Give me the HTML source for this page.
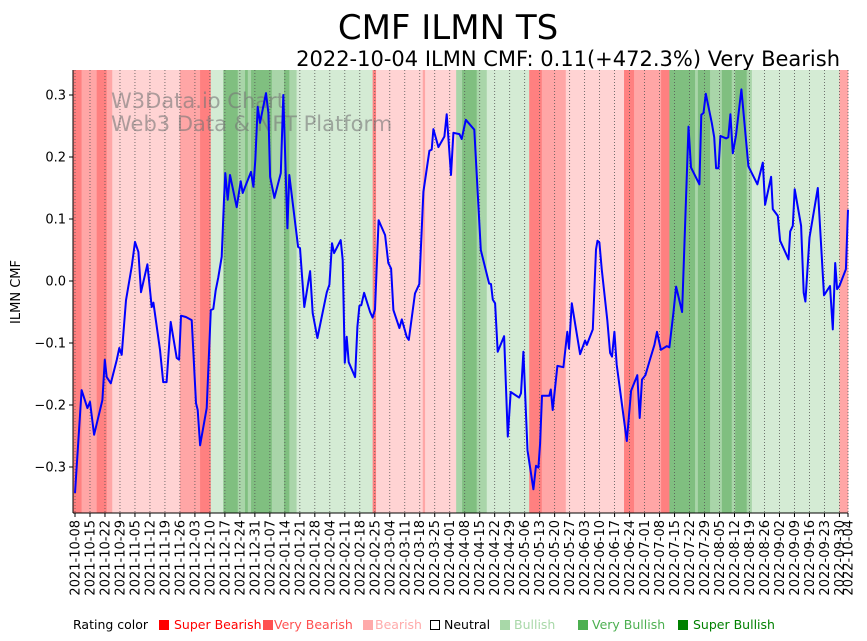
<!DOCTYPE html>
<html><head><meta charset="utf-8">
<style>
html,body{margin:0;padding:0;background:#fff;}
svg{display:block;font-family:"DejaVu Sans","Liberation Sans",sans-serif;}
</style></head>
<body>
<svg id="chart" width="867" height="641" viewBox="0 0 867 641" xmlns="http://www.w3.org/2000/svg">
<text x="448" y="39" font-size="34" text-anchor="middle" fill="#000">CMF ILMN TS</text>
<text x="840" y="66" font-size="21" text-anchor="end" fill="#000">2022-10-04 ILMN CMF: 0.11(+472.3%) Very Bearish</text>
<g id="bands"></g>
<g id="grid"></g>
<text x="111" y="108" font-size="21" fill="#777" fill-opacity="0.6">W3Data.io Chart</text>
<text x="111" y="131" font-size="21" fill="#777" fill-opacity="0.6">Web3 Data &amp; NFT Platform</text>
<g id="series"></g>
<g id="axes"></g>
<text transform="translate(20,292) rotate(-90)" font-size="13" text-anchor="middle">ILMN CMF</text>
<g font-size="12.5">
<text x="73" y="629">Rating color</text>
<rect x="159" y="620" width="10" height="10" fill="#ff0000"/>
<text x="174" y="629" fill="#ff0000">Super Bearish</text>
<rect x="263" y="620" width="10" height="10" fill="#ff5050"/>
<text x="274" y="629" fill="#ff5050">Very Bearish</text>
<rect x="363" y="620" width="10" height="10" fill="#ffaaaa"/>
<text x="375" y="629" fill="#ffaaaa">Bearish</text>
<rect x="430.5" y="620.5" width="9" height="9" fill="#fff" stroke="#000"/>
<text x="444" y="629" fill="#000">Neutral</text>
<rect x="500" y="620" width="10" height="10" fill="#a8d8a8"/>
<text x="514" y="629" fill="#a8d8a8">Bullish</text>
<rect x="578" y="620" width="10" height="10" fill="#4caf50"/>
<text x="592" y="629" fill="#4caf50">Very Bullish</text>
<rect x="678" y="620" width="10" height="10" fill="#008000"/>
<text x="693" y="629" fill="#008000">Super Bullish</text>
</g>
</svg>
<script>
// days since 2021-10-08
const days = [0,3.1,5.8,7.0,8.9,12.8,13.9,14.8,16.7,19.5,20.7,21.8,23.8,26.5,28.0,29.6,30.8,33.8,35.8,36.6,39.7,41.2,42.8,44.7,47.5,48.6,49.5,51.8,54.5,56.5,57.3,58.4,61.5,63.4,64.6,65.7,66.9,68.5,69.6,70.2,71.3,72.4,75.5,77.4,78.3,82.2,83.3,84.2,85.3,86.4,89.2,90.3,91.1,93.1,96.1,97.3,99.2,100.1,104.2,105.1,107.1,109.8,111.0,113.2,117.6,118.8,120.0,121.0,124.1,125.0,126.0,126.9,127.8,130.8,131.9,132.8,133.7,135.0,137.8,139.0,140.1,141.8,144.8,146.3,147.6,148.7,151.5,152.6,154.9,155.9,158.8,160.8,162.7,165.5,166.6,167.4,169.7,172.5,173.6,175.6,176.7,179.5,180.6,182.5,186.5,189.5,193.4,194.3,195.1,196.2,197.4,200.4,202.1,203.5,207.4,208.3,209.4,211.3,214.1,215.3,216.4,217.2,218.1,221.5,222.2,223.1,225.3,228.1,229.9,230.7,232.0,235.9,238.2,239.0,241.8,243.3,244.0,244.9,246.0,248.6,249.9,250.8,251.9,253.0,257.7,259.7,262.6,263.7,264.8,266.4,268.6,270.6,271.8,273.6,276.4,277.6,279.5,280.7,283.5,286.5,287.7,291.6,292.5,293.5,294.6,297.4,298.5,299.4,300.5,301.4,304.1,305.1,306.1,307.2,308.7,311.2,314.5,318.7,321.2,322.3,325.1,325.9,328.2,329.3,333.2,334.0,335.2,336.1,339.1,340.3,341.1,343.0,346.9,349.8,352.6,353.9,355.0,355.9,357.0,360.0,361.0];
const cmf = [-0.342,-0.176,-0.205,-0.195,-0.248,-0.192,-0.127,-0.155,-0.165,-0.127,-0.108,-0.119,-0.031,0.023,0.063,0.047,-0.018,0.027,-0.042,-0.035,-0.111,-0.163,-0.163,-0.066,-0.124,-0.127,-0.056,-0.058,-0.063,-0.197,-0.208,-0.265,-0.205,-0.047,-0.045,-0.015,0.006,0.039,0.131,0.174,0.131,0.171,0.119,0.161,0.142,0.176,0.152,0.195,0.281,0.255,0.303,0.271,0.168,0.134,0.174,0.300,0.085,0.171,0.055,0.053,-0.042,0.016,-0.052,-0.092,-0.018,-0.006,0.061,0.045,0.066,0.034,-0.132,-0.090,-0.131,-0.155,-0.074,-0.040,-0.039,-0.019,-0.050,-0.059,-0.046,0.098,0.074,0.029,0.020,-0.047,-0.076,-0.062,-0.090,-0.095,-0.020,-0.005,0.144,0.210,0.212,0.245,0.216,0.233,0.269,0.171,0.239,0.237,0.229,0.260,0.244,0.050,-0.004,-0.005,-0.030,-0.036,-0.114,-0.089,-0.251,-0.179,-0.188,-0.181,-0.114,-0.273,-0.336,-0.298,-0.301,-0.262,-0.185,-0.185,-0.175,-0.208,-0.137,-0.139,-0.082,-0.109,-0.036,-0.118,-0.096,-0.103,-0.078,0.051,0.065,0.062,0.018,-0.063,-0.116,-0.122,-0.082,-0.135,-0.258,-0.177,-0.152,-0.221,-0.159,-0.152,-0.126,-0.103,-0.082,-0.111,-0.105,-0.107,-0.050,-0.009,-0.050,0.249,0.183,0.156,0.268,0.271,0.302,0.255,0.232,0.182,0.182,0.234,0.230,0.232,0.269,0.206,0.235,0.309,0.185,0.156,0.191,0.123,0.168,0.116,0.105,0.065,0.035,0.080,0.089,0.148,0.089,-0.019,-0.033,0.070,0.150,-0.023,-0.008,-0.078,0.029,-0.013,-0.008,0.019,0.115];
const bandStart = [-0.9,3.1,10.1,14.8,17.4,49.0,58.4,63.4,69.3,76.0,79.4,80.7,82.2,91.9,97.6,100.1,103.5,139.0,140.6,162.4,163.5,178.0,180.8,187.6,192.3,212.1,218.0,225.3,229.2,256.4,261.1,273.7,277.6,289.6,290.9,296.6,302.1,306.7,308.3,313.7,316.1,357.0];
const bandLevel = [-3,-2,-3,-2,-1,-2,-3,1,3,2,3,2,3,2,3,2,1,-3,-1,-2,-1,2,3,2,1,-3,-2,-2,-1,-3,-2,-3,3,2,3,2,3,2,3,2,1,-2];
const bandEnd = 361;
const yTicks = [0.3,0.2,0.1,0.0,-0.1,-0.2,-0.3];
const yTickLabels = ["0.3","0.2","0.1","0.0","\u22120.1","\u22120.2","\u22120.3"];
const startDate = "2021-10-08";
const tickDays = [];
for (let d = 0; d <= 357; d += 7) tickDays.push(d);
tickDays.push(361);

const NS = "http://www.w3.org/2000/svg";
const X0 = 75, PXD = 773/361, Y0 = 281, PXV = 620;
const PL = 73, PR = 848, PT = 70, PB = 513;
function xs(d){ return X0 + d*PXD; }
function ys(v){ return Y0 - v*PXV; }
function mk(tag, attrs, parent){
  const el = document.createElementNS(NS, tag);
  for (const k in attrs) el.setAttribute(k, attrs[k]);
  parent.appendChild(el);
  return el;
}
const levelColor = {"-3":"#ff8080","-2":"#ffa6a6","-1":"#ffd3d3","1":"#d4ebd4","2":"#a9d5a9","3":"#80bf80"};
const bands = document.getElementById('bands');
for (let i = 0; i < bandStart.length; i++) {
  const a = Math.max(PL, xs(bandStart[i]));
  const b = Math.min(PR, xs(i+1 < bandStart.length ? bandStart[i+1] : bandEnd));
  const r = mk('rect', {x:a, y:PT, width:Math.max(0,b-a+0.3), height:PB-PT, fill:levelColor[String(bandLevel[i])]}, bands);
  
  
}
const grid = document.getElementById('grid');
const axes = document.getElementById('axes');
const base = new Date(startDate + "T00:00:00Z");
tickDays.forEach(d => {
  const x = xs(d);
  const gl = mk('line', {x1:x, x2:x, y1:PT, y2:PB, stroke:"#555", "stroke-width":0.8, "stroke-dasharray":"1,2"}, grid);
  
  
  const tk = mk('line', {x1:x, x2:x, y1:PB, y2:PB+4, stroke:"#000", "stroke-width":1}, axes);
  
  
  const dt = new Date(base.getTime() + d*86400000);
  const lab = dt.toISOString().slice(0,10);
  const t = mk('text', {transform:"translate("+(x+4.5)+","+(PB+7)+") rotate(-90)", "font-size":13, "text-anchor":"end"}, axes);
  t.textContent = lab;
  
  
});
yTicks.forEach((v, i) => {
  const y = ys(v);
  const tk = mk('line', {x1:PL-4, x2:PL, y1:y, y2:y, stroke:"#000", "stroke-width":1}, axes);
  
  
  const t = mk('text', {x:PL-7, y:y+4.5, "font-size":13, "text-anchor":"end"}, axes);
  t.textContent = yTickLabels[i];
  
  
});
const la = mk('line', {x1:PL, x2:PL, y1:PT, y2:PB, stroke:"#000", "stroke-width":1}, axes);


const ba = mk('line', {x1:PL, x2:PR, y1:PB, y2:PB, stroke:"#000", "stroke-width":1}, axes);


const pts = days.map((d,i) => xs(d).toFixed(1)+","+ys(cmf[i]).toFixed(1)).join(" ");
const line = mk('polyline', {points:pts, fill:"none", stroke:"#0000ff", "stroke-width":2, "stroke-linejoin":"round"}, document.getElementById('series'));


</script>
</body></html>
